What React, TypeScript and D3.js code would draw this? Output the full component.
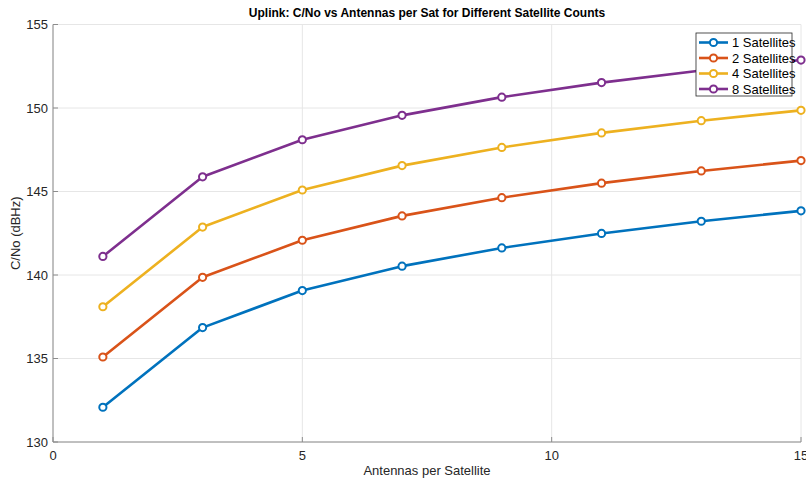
import React from "react";
import * as d3 from "d3";

const antennas = [1, 3, 5, 7, 9, 11, 13, 15];
const seriesNames = ["1 Satellites", "2 Satellites", "4 Satellites", "8 Satellites"];
const sat1 = [132.08, 136.85, 139.07, 140.53, 141.62, 142.49, 143.22, 143.84];
const sat2 = [135.09, 139.86, 142.08, 143.54, 144.63, 145.5, 146.23, 146.85];
const sat4 = [138.1, 142.87, 145.09, 146.55, 147.64, 148.51, 149.24, 149.86];
const sat8 = [141.11, 145.88, 148.1, 149.56, 150.65, 151.52, 152.25, 152.87];
const xTicks = [0, 5, 10, 15];
const yTicks = [130, 135, 140, 145, 150, 155];

const colors = ["#0072BD", "#D95319", "#EDB120", "#7E2F8E"];

const W = 806;
const H = 479;
const left = 53;
const right = 801;
const top = 24.5;
const bottom = 442;
const font = "Arial, 'Liberation Sans', Helvetica, sans-serif";

export default function App() {
  const x = d3.scaleLinear().domain([0, 15]).range([left, right]);
  const y = d3.scaleLinear().domain([130, 155]).range([bottom, top]);
  const series = [sat1, sat2, sat4, sat8];
  const line = d3
    .line<number>()
    .x((_, i) => x(antennas[i]))
    .y((d) => y(d));

  const legX = 696;
  const legY = 33;
  const legW = 96;
  const legH = 63;

  return (
    <svg
      width={W}
      height={H}
      style={{ position: "absolute", left: 0, top: 0, background: "#fff" }}
      fontFamily={font}
    >
      <rect x={0} y={0} width={W} height={H} fill="#fff" />
      {/* grid */}
      {xTicks.map((t) => (
        <line key={"gx" + t} x1={x(t)} x2={x(t)} y1={top} y2={bottom} stroke="#e6e6e6" strokeWidth={1} />
      ))}
      {yTicks.map((t) => (
        <line key={"gy" + t} x1={left} x2={right} y1={y(t)} y2={y(t)} stroke="#e6e6e6" strokeWidth={1} />
      ))}
      {/* axes */}
      <line x1={left} x2={left} y1={top} y2={bottom} stroke="#8c8c8c" strokeWidth={1} />
      <line x1={left} x2={right} y1={bottom} y2={bottom} stroke="#8c8c8c" strokeWidth={1} />
      {xTicks.map((t) => (
        <g key={"tx" + t}>
          <line x1={x(t)} x2={x(t)} y1={bottom} y2={bottom - 5} stroke="#8c8c8c" />
          <text x={x(t)} y={bottom + 18} textAnchor="middle" fontSize={13} fill="#262626">
            {t}
          </text>
        </g>
      ))}
      {yTicks.map((t) => (
        <g key={"ty" + t}>
          <line x1={left} x2={left + 5} y1={y(t)} y2={y(t)} stroke="#8c8c8c" />
          <text x={left - 5} y={y(t) + 4.5} textAnchor="end" fontSize={13} fill="#262626">
            {t}
          </text>
        </g>
      ))}
      {/* series */}
      {series.map((s, k) => (
        <g key={"s" + k}>
          <path d={line(s) || ""} fill="none" stroke={colors[k]} strokeWidth={2.6} strokeLinejoin="round" />
          {s.map((v, i) => (
            <circle
              key={i}
              cx={x(antennas[i])}
              cy={y(v)}
              r={3.6}
              fill="#fff"
              stroke={colors[k]}
              strokeWidth={2}
            />
          ))}
        </g>
      ))}
      {/* title and labels */}
      <text x={(left + right) / 2} y={17} textAnchor="middle" fontSize={12} fontWeight="bold" fill="#000">
        Uplink: C/No vs Antennas per Sat for Different Satellite Counts
      </text>
      <text x={(left + right) / 2} y={475} textAnchor="middle" fontSize={13} fill="#262626">
        Antennas per Satellite
      </text>
      <text
        transform={`translate(20, ${(top + bottom) / 2}) rotate(-90)`}
        textAnchor="middle"
        fontSize={13}
        fill="#262626"
      >
        C/No (dBHz)
      </text>
      {/* legend */}
      <rect x={legX} y={legY} width={legW} height={legH} fill="#fff" stroke="#262626" strokeWidth={0.8} />
      {seriesNames.map((n, k) => {
        const cy = legY + 9.5 + k * 15.5;
        return (
          <g key={"l" + n}>
            <line x1={legX + 3} x2={legX + 32} y1={cy} y2={cy} stroke={colors[k]} strokeWidth={2.6} />
            <circle cx={legX + 17.5} cy={cy} r={3.6} fill="#fff" stroke={colors[k]} strokeWidth={2} />
            <text x={legX + 36} y={cy + 4.5} fontSize={13} fill="#000">
              {n}
            </text>
          </g>
        );
      })}
    </svg>
  );
}
